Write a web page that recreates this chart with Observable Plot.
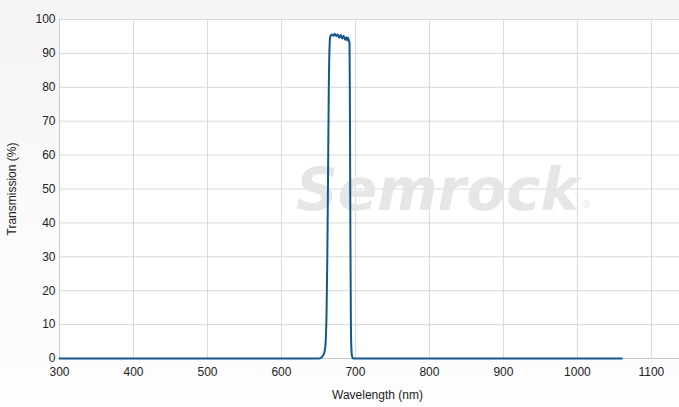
<!DOCTYPE html>
<html>
<head>
<meta charset="utf-8">
<script src="https://cdn.jsdelivr.net/npm/d3@7"></script>
<script src="https://cdn.jsdelivr.net/npm/@observablehq/plot@0.6"></script>
<style>
  html, body { margin: 0; padding: 0; }
  body {
    width: 679px; height: 407px; overflow: hidden;
    background: linear-gradient(to bottom, #f4f4f4 0%, #fbfbfb 60%, #fdfdfd 100%);
    font-family: "Liberation Sans", Arial, sans-serif;
  }
</style>
</head>
<body>
<div id="chart"></div>
<script>
const wavelength = [300, 400, 500, 600, 640, 650, 654, 657, 659, 660, 661, 662, 663, 664, 665, 666, 668, 670, 672, 674, 676, 678, 680, 682, 684, 686, 688, 689, 690, 691, 692, 692.6, 693.2, 693.8, 694.5, 695.5, 697, 700, 750, 800, 900, 1000, 1060];
const transmission = [0, 0, 0, 0, 0, 0, 0.3, 1.2, 3, 6, 14, 30, 55, 80, 92, 95, 95.6, 95.2, 95.8, 95.1, 95.6, 94.6, 95.4, 94.4, 95.2, 94.0, 94.8, 93.8, 94.6, 93.9, 93, 70, 35, 12, 3, 0.6, 0, 0, 0, 0, 0, 0, 0];
const xTicks = [300, 400, 500, 600, 700, 800, 900, 1000, 1100];
const yTicks = [0, 10, 20, 30, 40, 50, 60, 70, 80, 90, 100];
const xLabel = "Wavelength (nm)";
const yLabel = "Transmission (%)";
const watermark = "Semrock";

const data = wavelength.map((w, i) => ({w, t: transmission[i]}));
const font = "'Liberation Sans', Arial, sans-serif";

const chart = Plot.plot({
  width: 679,
  height: 407,
  marginLeft: 59,
  marginRight: 0,
  marginTop: 19,
  marginBottom: 49,
  style: {background: "transparent", fontFamily: font, fontSize: "12px", color: "#222"},
  x: {domain: [300, 1138], ticks: xTicks, label: null},
  y: {domain: [0, 100], ticks: yTicks, label: null},
  marks: [
    Plot.frame({fill: "white", stroke: null}),
    Plot.gridY(yTicks, {stroke: "#d9d9d9", strokeOpacity: 1}),
    Plot.gridX(xTicks, {stroke: "#d9d9d9", strokeOpacity: 1}),
    Plot.text([watermark], {frameAnchor: "middle", dx: 68, dy: 2, text: d => d, fontSize: 58, fontWeight: "bold", fontStyle: "italic", fill: "#e6e6e6", fontFamily: "'DejaVu Sans', sans-serif"}),
    Plot.text(["®"], {frameAnchor: "middle", dx: 217, dy: 16, text: d => d, fontSize: 10, fill: "#e6e6e6"}),
    Plot.ruleY([0], {stroke: "#c8c8c8"}),
    Plot.ruleX([300], {stroke: "#c8c8c8"}),
    Plot.line(data, {x: "w", y: "t", stroke: "#13578f", strokeWidth: 2, curve: "monotone-x"}),
    Plot.axisX(xTicks, {tickSize: 0, tickPadding: 9, fontSize: 12, fill: "#222", tickFormat: d => String(d)}),
    Plot.axisY(yTicks, {tickSize: 0, tickPadding: 4, fontSize: 12, fill: "#222", tickFormat: d => String(d)}),
    Plot.text([xLabel], {frameAnchor: "bottom", dx: 8, dy: 40, text: d => d, fontSize: 12, fill: "#222"}),
    Plot.axisY({ticks: [], label: yLabel, labelAnchor: "center", labelArrow: "none", labelOffset: 52, fontSize: 12, fill: "#222"})
  ]
});
document.getElementById("chart").appendChild(chart);
</script>
</body>
</html>
